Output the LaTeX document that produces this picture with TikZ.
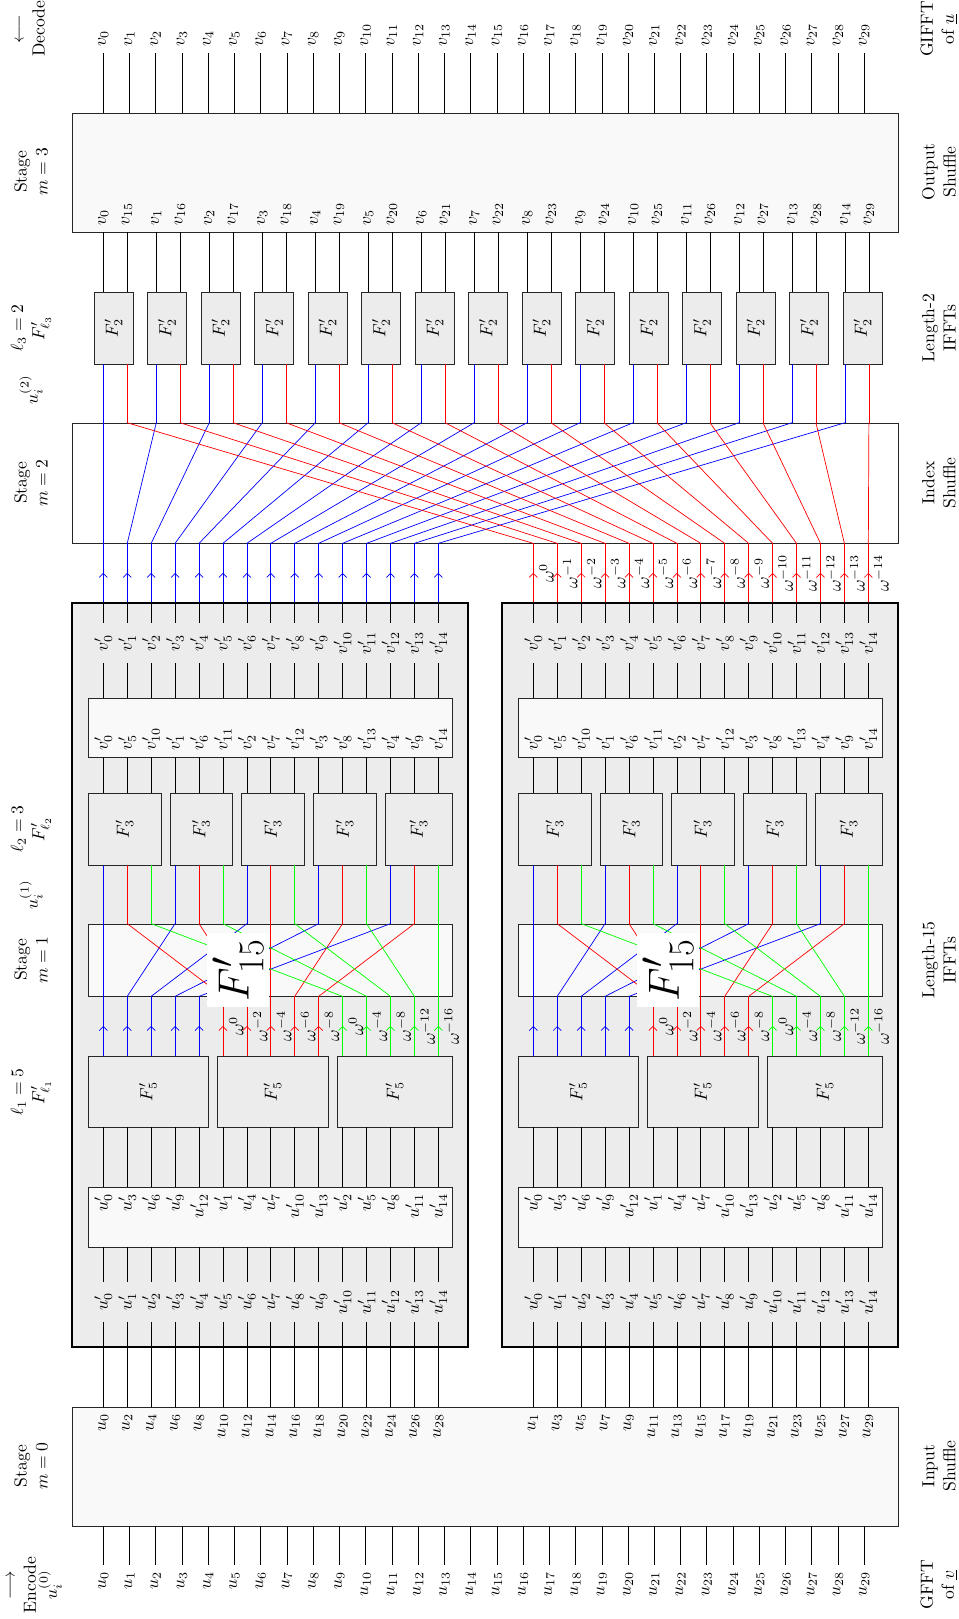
\documentclass[tikz,border=0pt]{standalone}
\usepackage{amsmath}
\usetikzlibrary{fit,decorations.markings,arrows.meta}
\tikzset{
mid arrow/.style={postaction={decorate, decoration={
markings,
mark=at position .5 with {\arrow{Straight Barb}}
}}},
lbl/.style={rotate=90},
side/.style={rotate=90, align=center},
lane/.style={rotate=90, inner sep=0pt, minimum width=8mm},
stagebox/.style={draw=black!85, fill=gray!5, inner sep=0pt},
shufbox/.style={draw=black!85, fill=white, inner sep=0pt},
blockbox/.style={draw=black, semithick, fill=gray!15, inner sep=0pt},
fftbox/.style={draw=black!85, fill=gray!15, inner sep=0pt},
}

\begin{document}
\begin{tikzpicture}[x=0.02cm, y=-0.02cm]
\useasboundingbox (0,0) rectangle (958,1619);

% labels on the left
\node[side] (enc) at (35,1585) {$\longrightarrow$\\Encode\\$u_i^{(0)}$};
\node[side] (st0) at (31,1466) {Stage\\$m=0$};
\node[side] (ell1) at (31,1092) {$\ell_1=5$\\$F'_{\ell_1}$};
\node[side] (st1) at (31,960) {Stage\\$m=1$};
\node[side] (lu1) at (31,895) {$u_i^{(1)}$};
\node[side] (ell2) at (31,829) {$\ell_2=3$\\$F'_{\ell_2}$};
\node[side] (st2) at (31,483) {Stage\\$m=2$};
\node[side] (lu2) at (31,390) {$u_i^{(2)}$};
\node[side] (ell3) at (31,328) {$\ell_3=2$\\$F'_{\ell_3}$};
\node[side] (st3) at (31,172) {Stage\\$m=3$};
\node[side] (dec) at (31,29) {$\longleftarrow$\\Decode};
% labels on the right
\node[side] (gf) at (939,1585) {GFFT\\of $\underline{v}$};
\node[side] (ish) at (939,1466) {Input\\Shuffle};
\node[side] (len15) at (939,960) {Length-15\\IFFTs};
\node[side] (xsh) at (939,483) {Index\\Shuffle};
\node[side] (len2) at (939,328) {Length-2\\IFFTs};
\node[side] (osh) at (939,172) {Output\\Shuffle};
\node[side] (gif) at (939,29) {GIFFT\\of $\underline{u}$};

% stage 0
\node[stagebox, fit={(72,1407) (898,1526)}] (s0) {};
\foreach \i in {0,...,29}{
  \pgfmathsetmacro{\xx}{103.3+26.24*\i}
  \node[lbl, anchor=east] (u\i) at (\xx,1565) {$u_{\i}$};
  \draw (s0.south -| u\i) -- (u\i);
}
\foreach \j in {0,...,14}{
  \pgfmathtruncatemacro{\ev}{2*\j}
  \pgfmathtruncatemacro{\od}{2*\j+1}
  \node[lbl, anchor=east] (se\j) at (103.3+23.93*\j,1407) {$u_{\ev}$};
  \node[lbl, anchor=east] (so\j) at (533+23.93*\j,1407) {$u_{\od}$};
}

% stages 2 and 3
\node[stagebox, fit={(72,113) (898,232)}] (s3) {};
\node[shufbox, fit={(72,423) (898,543)}] (s2) {};
\foreach \i in {0,...,29}{
  \pgfmathsetmacro{\xx}{103.3+26.24*\i}
  \node[lbl, anchor=west] (v\i) at (\xx,53) {$v_{\i}$};
  \draw (s3.north -| v\i) -- (v\i);
}
\foreach \k in {0,...,14}{
  \pgfmathsetmacro{\xb}{103.3+53*\k}
  \pgfmathsetmacro{\xr}{126.9+53*\k}
  \pgfmathtruncatemacro{\hi}{\k+15}
  \node[lbl, anchor=west] (ob\k) at (\xb,232) {$v_{\k}$};
  \node[lbl, anchor=west] (or\k) at (\xr,232) {$v_{\hi}$};
  \node[fftbox, fit={(94+53.5*\k,292) (133+53.5*\k,364)}] (ft\k) {};
  \node[lbl] (ftl\k) at (ft\k) {$F'_2$};
  \draw[blue] (s2.north -| ob\k) -- (ft\k.south -| ob\k);
  \draw[red] (s2.north -| or\k) -- (ft\k.south -| or\k);
  \draw (ft\k.north -| ob\k) -- (s3.south -| ob\k);
  \draw (ft\k.north -| or\k) -- (s3.south -| or\k);
}
\foreach \j in {0,...,14}
  \node[lbl, anchor=north] (wt\j) at (533+23.93*\j,573) {$\omega^{\ifnum\j=0 0\else -\j\fi}$};

% the two length-15 blocks
\foreach \off/\nm/\cl/\pf in {0/a/blue/ob,430/b/red/or}{
  \node[blockbox, fit={(72+\off,603) (468+\off,1347)}] (blk\nm) {};
  \node[stagebox, fit={(88+\off,1187) (452+\off,1247)}] (pin\nm) {};
  \node[stagebox, fit={(88+\off,924) (452+\off,996)}] (pmid\nm) {};
  \node[stagebox, fit={(88+\off,698) (452+\off,757)}] (pout\nm) {};
  \foreach \lft/\rgt [count=\kk] in {88/208,217/328,337/452}{
    \node[fftbox, fit={(\lft+\off,1056) (\rgt+\off,1127)}] (fa\nm\kk) {};
    \node[lbl] (fal\nm\kk) at (fa\nm\kk) {$F'_5$};
  }
  \foreach \lft/\rgt [count=\kk] in {88/161,170/232,241/304,313/376,385/452}{
    \node[fftbox, fit={(\lft+\off,793) (\rgt+\off,865)}] (fb\nm\kk) {};
    \node[lbl] (fbl\nm\kk) at (fb\nm\kk) {$F'_3$};
  }
  \foreach \j in {0,...,14}{
    \pgfmathsetmacro{\xx}{103.3+23.93*\j+\off}
    \pgfmathtruncatemacro{\si}{3*mod(\j,5)+floor(\j/5)}
    \pgfmathtruncatemacro{\ta}{5*mod(\j,3)+floor(\j/3)}
    \pgfmathtruncatemacro{\ka}{floor(\j/5)+1}
    \pgfmathtruncatemacro{\kb}{floor(\j/3)+1}
    \node[lane] (ui\nm\j) at (\xx,1302) {$u'_{\j}$};
    \node[lbl, anchor=east] (pu\nm\j) at (\xx,1187) {$u'_{\si}$};
    \node[lbl, anchor=west] (pv\nm\j) at (\xx,757) {$v'_{\ta}$};
    \node[lane] (vi\nm\j) at (\xx,643) {$v'_{\j}$};
    \draw (s0.north -| ui\nm\j) -- (ui\nm\j);
    \draw (ui\nm\j) -- (pin\nm.south -| ui\nm\j);
    \draw (pin\nm.north -| ui\nm\j) -- (fa\nm\ka.south -| ui\nm\j);
    \draw (fb\nm\kb.north -| ui\nm\j) -- (pout\nm.south -| ui\nm\j);
    \draw (pout\nm.north -| vi\nm\j) -- (vi\nm\j);
    \draw (vi\nm\j) -- (blk\nm.north -| vi\nm\j);
    \draw[\cl, mid arrow] (blk\nm.north -| vi\nm\j) -- (s2.south -| vi\nm\j);
    \draw[\cl] (s2.south -| vi\nm\j) -- (s2.north -| \pf\j);
  }
  \foreach \col [count=\bb from 0] in {blue,red,green}{
    \foreach \ai in {0,...,4}{
      \pgfmathtruncatemacro{\sx}{5*\bb+\ai}
      \pgfmathtruncatemacro{\tx}{3*\ai+\bb}
      \pgfmathtruncatemacro{\kk}{\bb+1}
      \pgfmathtruncatemacro{\mm}{\ai+1}
      \pgfmathtruncatemacro{\ex}{2*\ai*\bb}
      \draw[\col, mid arrow] (fa\nm\kk.north -| ui\nm\sx) -- (pmid\nm.south -| ui\nm\sx);
      \draw[\col] (pmid\nm.south -| ui\nm\sx) -- (pmid\nm.north -| ui\nm\tx);
      \draw[\col] (pmid\nm.north -| ui\nm\tx) -- (fb\nm\mm.south -| ui\nm\tx);
      \ifnum\bb>0
        \node[lbl, anchor=north] (w\nm\sx) at (103.3+23.93*\sx+\off,1026) {$\omega^{\ifnum\ex=0 0\else -\ex\fi}$};
      \fi
    }
  }
  \node[lbl, fill=white, font=\Huge] (big\nm) at (238+\off,970) {$F'_{15}$};
}
\end{tikzpicture}
\end{document}
